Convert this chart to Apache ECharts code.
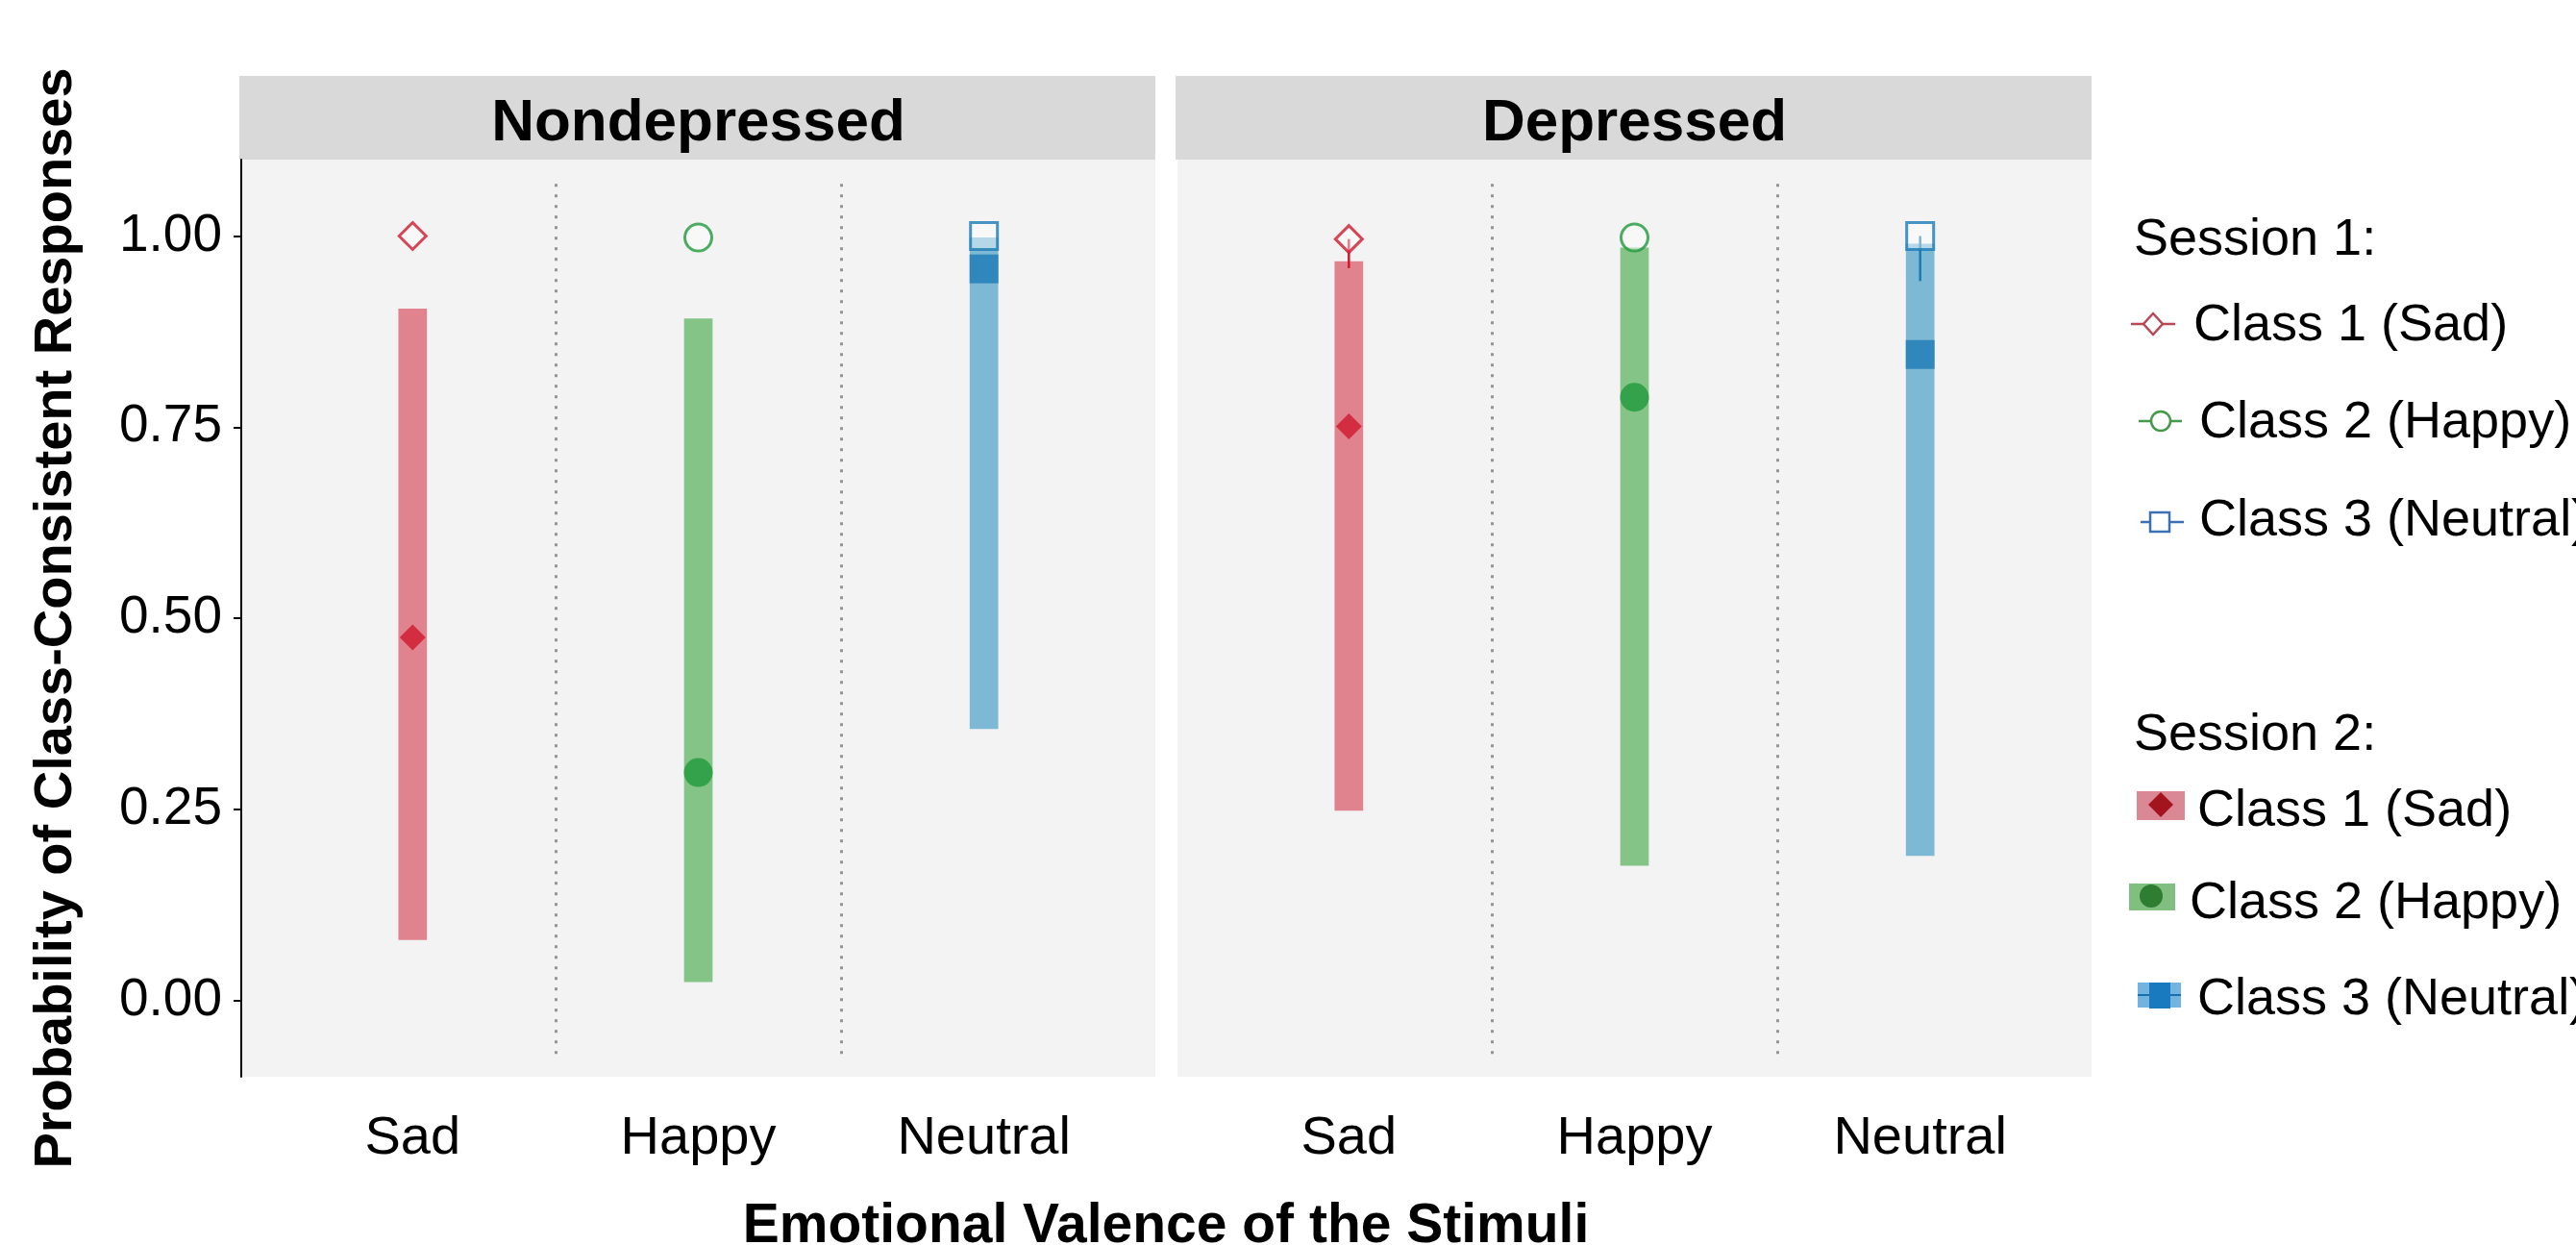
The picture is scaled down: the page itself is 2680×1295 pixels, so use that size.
<!DOCTYPE html>
<html>
<head>
<meta charset="utf-8">
<title>Class-Consistent Responses</title>
<script src="https://cdn.jsdelivr.net/npm/echarts@6/dist/echarts.min.js"></script>
<style>
  html, body { margin: 0; padding: 0; background: #fff; }
  #chart { width: 2680px; height: 1295px; }
</style>
</head>
<body>
<div id="chart"></div>
<script>
// categories / facets
var categories = ['Sad', 'Happy', 'Neutral'];
var panels = ['Nondepressed', 'Depressed'];
var yTicks = [0, 0.25, 0.5, 0.75, 1.0];
var separators = [1.5, 2.5];

// Session 1 estimates (open markers) + lower end of their small error line
var s1Nondep = [1.00, 0.998, 1.00];
var s1Dep = [0.996, 0.998, 1.00];
var s1LowNondep = [1.00, 0.998, 1.00];
var s1LowDep = [0.958, 0.998, 0.941];

// Session 2 estimates (filled markers) and their intervals (bars)
var s2Nondep = [0.475, 0.298, 0.957];
var s2Dep = [0.751, 0.789, 0.845];
var lowNondep = [0.079, 0.024, 0.355];
var highNondep = [0.905, 0.892, 0.998];
var lowDep = [0.248, 0.176, 0.189];
var highDep = [0.967, 0.985, 0.990];

var FONT = '"Liberation Sans", Arial, sans-serif';
var barColors = ['#e0838f', '#85c487', '#7db8d5'];
var markColors = ['#d0182d', '#1f9a3b', '#1c7ab5'];
var symbols = ['diamond', 'circle', 'rect'];
var s1Sizes = [[28, 28], 28, 28];
var s2Sizes = [[27, 27], 30, 30];

var chart = echarts.init(document.getElementById('chart'));

// grid geometry
var gridTop = 166, gridBottom = 175, gridW = 951;
var gridLefts = [251, 1225];

function renderRange(params, api) {
	var x = api.value(0);
	var lo = api.coord([x, api.value(1)]);
	var hi = api.coord([x, api.value(2)]);
	var w = api.size([0.1, 0])[0];
	return {
		type: 'rect',
		shape: { x: hi[0] - w / 2, y: hi[1], width: w, height: lo[1] - hi[1] },
		style: { fill: barColors[params.dataIndex] }
	};
}

function renderErr(params, api) {
	var x = api.value(0);
	var a = api.coord([x, api.value(1)]);
	var b = api.coord([x, api.value(2)]);
	return {
		type: 'line',
		shape: { x1: a[0], y1: a[1], x2: b[0], y2: b[1] },
		style: { stroke: markColors[params.dataIndex], lineWidth: 2.5 }
	};
}

var grids = [], xAxes = [], yAxes = [], series = [], graphics = [];
var allData = [
	{ s1: s1Nondep, s1Low: s1LowNondep, s2: s2Nondep, low: lowNondep, high: highNondep },
	{ s1: s1Dep, s1Low: s1LowDep, s2: s2Dep, low: lowDep, high: highDep }
];

panels.forEach(function (name, g) {
	var d = allData[g];
	grids.push({
		left: gridLefts[g], width: gridW, top: gridTop, bottom: gridBottom,
		show: true, backgroundColor: '#f3f3f3', borderWidth: 0
	});
	xAxes.push({
		gridIndex: g, type: 'value', min: 0.4, max: 3.6,
		axisLine: { show: false }, axisTick: { show: false }, splitLine: { show: false },
		axisLabel: {
			customValues: [1, 2, 3],
			formatter: function (v) { return categories[Math.round(v) - 1]; },
			fontSize: 56, fontFamily: FONT, color: '#000',
			verticalAlign: 'middle', margin: 65
		}
	});
	yAxes.push({
		gridIndex: g, type: 'value', min: -0.1, max: 1.1,
		show: g === 0,
		splitLine: { show: false },
		axisLine: { show: g === 0, lineStyle: { color: '#000', width: 2 } },
		axisTick: { show: g === 0, customValues: yTicks, length: 8, lineStyle: { color: '#000', width: 2 } },
		axisLabel: {
			show: g === 0, customValues: yTicks, margin: 20,
			formatter: function (v) { return v.toFixed(2); },
			fontSize: 55, fontFamily: FONT, color: '#000'
		},
		name: g === 0 ? 'Probability of Class-Consistent Responses' : '',
		nameLocation: 'middle', nameGap: 164,
		nameTextStyle: { fontSize: 56, fontWeight: 'bold', fontFamily: FONT, color: '#000' }
	});

	// Session 2 intervals
	series.push({
		type: 'custom', xAxisIndex: g, yAxisIndex: g, renderItem: renderRange, silent: true,
		data: categories.map(function (c, i) { return [i + 1, d.low[i], d.high[i]]; })
	});
	// Session 1 small error lines
	series.push({
		type: 'custom', xAxisIndex: g, yAxisIndex: g, renderItem: renderErr, silent: true,
		data: categories.map(function (c, i) { return [i + 1, d.s1Low[i], d.s1[i]]; })
	});
	// Session 1 open markers (+ dotted separators)
	series.push({
		type: 'scatter', xAxisIndex: g, yAxisIndex: g, silent: true,
		data: categories.map(function (c, i) {
			return {
				value: [i + 1, d.s1[i]], symbol: symbols[i], symbolSize: s1Sizes[i],
				itemStyle: { color: 'rgba(255,255,255,0.55)', borderColor: markColors[i], borderWidth: 3 }
			};
		}),
		markLine: {
			silent: true, symbol: 'none', label: { show: false },
			lineStyle: { type: [3, 8], color: '#949494', width: 3 },
			data: separators.map(function (x) {
				return [{ coord: [x, -0.07] }, { coord: [x, 1.07] }];
			})
		}
	});
	// Session 2 filled markers
	series.push({
		type: 'scatter', xAxisIndex: g, yAxisIndex: g, silent: true,
		data: categories.map(function (c, i) {
			return {
				value: [i + 1, d.s2[i]], symbol: symbols[i], symbolSize: s2Sizes[i],
				itemStyle: { color: markColors[i] }
			};
		})
	});

	// facet strip
	graphics.push({
		type: 'rect', left: gridLefts[g] - 2, top: 79,
		shape: { width: gridW + 2, height: 87 },
		style: { fill: '#d9d9d9' }
	});
	graphics.push({
		type: 'text', x: gridLefts[g] + gridW / 2, y: 129,
		style: {
			text: name, fill: '#000', font: 'bold 62px ' + FONT,
			textAlign: 'center', textVerticalAlign: 'middle'
		}
	});
});

// x axis title
graphics.push({
	type: 'text', x: 1213, y: 1276,
	style: {
		text: 'Emotional Valence of the Stimuli', fill: '#000', font: 'bold 57px ' + FONT,
		textAlign: 'center', textVerticalAlign: 'middle'
	}
});

// legend (drawn by hand: two blocks)
function legText(txt, x, y) {
	return {
		type: 'text', x: x, y: y,
		style: { text: txt, fill: '#000', font: '54px ' + FONT, textVerticalAlign: 'middle' }
	};
}
function diamond(cx, cy, hw, hh) {
	return [[cx, cy - hh], [cx + hw, cy], [cx, cy + hh], [cx - hw, cy]];
}
var s1Leg = ['#bb4655', '#45994a', '#3c70b5'];

graphics.push(legText('Session 1:', 2220, 250));
graphics.push({ type: 'line', shape: { x1: 2217, y1: 337, x2: 2263, y2: 337 }, style: { stroke: s1Leg[0], lineWidth: 2.5 } });
graphics.push({ type: 'polygon', shape: { points: diamond(2240, 337, 10, 11) }, style: { fill: '#fff', stroke: s1Leg[0], lineWidth: 2.5 } });
graphics.push(legText('Class 1 (Sad)', 2282, 339));
graphics.push({ type: 'line', shape: { x1: 2225, y1: 438, x2: 2270, y2: 438 }, style: { stroke: s1Leg[1], lineWidth: 2.5 } });
graphics.push({ type: 'circle', shape: { cx: 2248, cy: 438, r: 10 }, style: { fill: '#fff', stroke: s1Leg[1], lineWidth: 2.5 } });
graphics.push(legText('Class 2 (Happy)', 2288, 440));
graphics.push({ type: 'line', shape: { x1: 2227, y1: 543, x2: 2272, y2: 543 }, style: { stroke: s1Leg[2], lineWidth: 2.5 } });
graphics.push({ type: 'rect', shape: { x: 2237, y: 533, width: 20, height: 20 }, style: { fill: '#fff', stroke: s1Leg[2], lineWidth: 2.5 } });
graphics.push(legText('Class 3 (Neutral)', 2288, 542));

graphics.push(legText('Session 2:', 2220, 765));
graphics.push({ type: 'rect', shape: { x: 2223, y: 823, width: 50, height: 30 }, style: { fill: '#d98894' } });
graphics.push({ type: 'polygon', shape: { points: diamond(2248, 837, 13, 13) }, style: { fill: '#a3141f' } });
graphics.push(legText('Class 1 (Sad)', 2286, 844));
graphics.push({ type: 'rect', shape: { x: 2215, y: 919, width: 48, height: 28 }, style: { fill: '#80bf7f' } });
graphics.push({ type: 'circle', shape: { cx: 2238, cy: 932, r: 12 }, style: { fill: '#2e7d32' } });
graphics.push(legText('Class 2 (Happy)', 2278, 940));
graphics.push({ type: 'rect', shape: { x: 2224, y: 1022, width: 45, height: 26 }, style: { fill: '#72b4df' } });
graphics.push({ type: 'line', shape: { x1: 2224, y1: 1035, x2: 2269, y2: 1035 }, style: { stroke: '#1a6fae', lineWidth: 2 } });
graphics.push({ type: 'rect', shape: { x: 2236, y: 1022, width: 22, height: 27 }, style: { fill: '#1a7abf' } });
graphics.push(legText('Class 3 (Neutral)', 2286, 1040));

var option = {
	backgroundColor: '#fff',
	animation: false,
	grid: grids,
	xAxis: xAxes,
	yAxis: yAxes,
	series: series,
	graphic: graphics
};

chart.setOption(option);
</script>
</body>
</html>
